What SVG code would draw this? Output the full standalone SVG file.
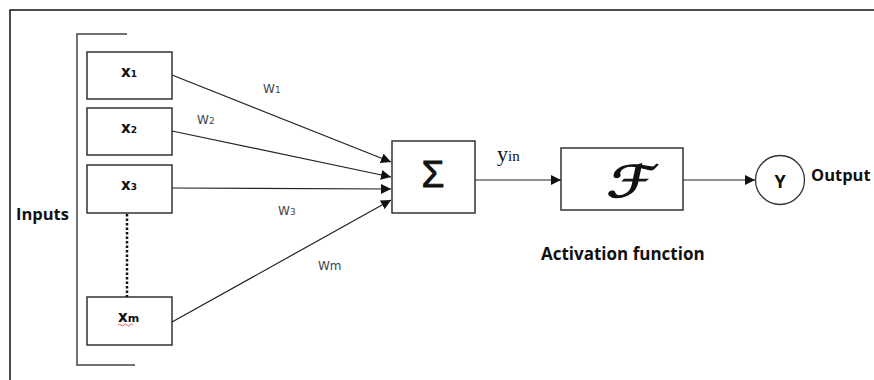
<svg xmlns="http://www.w3.org/2000/svg" width="874" height="380" viewBox="0 0 874 380">
<style>
.box{fill:#fff;stroke:#333;stroke-width:1.5}
.ln{stroke:#222;stroke-width:1.2;fill:none}
.lbl{font-family:"Open Sans","DejaVu Sans",sans-serif;font-weight:bold;fill:#111}
.xl{font-family:"DejaVu Sans",sans-serif;font-weight:bold;font-size:15px;fill:#111}
.w{font-family:"DejaVu Sans",sans-serif;font-size:12px;fill:#444}
</style>
<defs>
<marker id="ah" viewBox="0 0 10 10" refX="10" refY="5" markerWidth="10" markerHeight="10" markerUnits="userSpaceOnUse" orient="auto">
<path d="M0,0 L10,5 L0,10 z" fill="#111"/>
</marker>
</defs>
<rect width="874" height="380" fill="#fff"/>
<g id="frame">
<path d="M10,380 V10 H874" fill="none" stroke="#111" stroke-width="1.5"/>
</g>
<g id="bracket">
<path d="M127,34 H77 V365 H135" fill="none" stroke="#444" stroke-width="1.5"/>
<text class="lbl" x="16" y="220" font-size="16.5">Inputs</text>
</g>
<g id="x1"><rect class="box" x="87" y="52" width="85" height="47"/><text class="xl" x="121" y="77">x<tspan font-size="9">1</tspan></text></g>
<g id="x2"><rect class="box" x="87" y="108" width="85" height="47"/><text class="xl" x="121" y="133">x<tspan font-size="9">2</tspan></text></g>
<g id="x3"><rect class="box" x="87" y="165" width="85" height="48"/><text class="xl" x="121" y="190">x<tspan font-size="9">3</tspan></text></g>
<g id="xm"><rect class="box" x="87" y="297" width="85" height="48"/><text class="xl" x="118" y="322">x<tspan font-size="11">m</tspan></text>
<path d="M118,325 q1.5,-2 3,0 t3,0 t3,0 t3,0 t3,0" fill="none" stroke="#e33" stroke-width="0.8"/></g>
<g id="sum"><rect class="box" x="392" y="141" width="83" height="72"/><text x="433" y="187" text-anchor="middle" font-family="Liberation Sans,sans-serif" font-size="37" stroke="#111" stroke-width="0.9" fill="#111">Σ</text></g>
<g id="act"><rect class="box" x="561" y="148" width="122" height="62"/><text transform="translate(629,197) skewX(-12) scale(1.35,1)" x="0" y="0" text-anchor="middle" font-family="DejaVu Sans,sans-serif" font-size="44" stroke="#111" stroke-width="1.2" fill="#111">ℱ</text></g>
<g id="out"><circle cx="780" cy="180" r="24.5" fill="#fff" stroke="#333" stroke-width="1.3"/><text class="lbl" x="780" y="188" text-anchor="middle" font-size="18">Y</text></g>
<g id="connectors">
<line x1="127" y1="214" x2="127" y2="297" stroke="#111" stroke-dasharray="2.5,2" stroke-width="2.5"/>
<line class="ln" x1="172" y1="75" x2="391" y2="162" marker-end="url(#ah)"/>
<line class="ln" x1="172" y1="131" x2="391" y2="177" marker-end="url(#ah)"/>
<line class="ln" x1="172" y1="188" x2="391" y2="189" marker-end="url(#ah)"/>
<line class="ln" x1="172" y1="322" x2="391" y2="200" marker-end="url(#ah)"/>
<line class="ln" x1="475" y1="180" x2="561" y2="180" marker-end="url(#ah)"/>
<line class="ln" x1="683" y1="180" x2="755" y2="180" marker-end="url(#ah)"/>
</g>
<g id="labels">
<text class="w" x="263" y="93">W<tspan font-size="9">1</tspan></text>
<text class="w" x="197" y="124">W<tspan font-size="9">2</tspan></text>
<text class="w" x="278" y="215">W<tspan font-size="9">3</tspan></text>
<text class="w" x="318" y="270">Wm</text>
<text x="497" y="161" font-family="Liberation Serif,serif" font-size="22" fill="#111">y<tspan font-size="15">in</tspan></text>
<text class="lbl" x="541" y="260" font-size="17">Activation function</text>
<text class="lbl" x="811" y="181" font-size="16.5">Output</text>
</g>
</svg>
